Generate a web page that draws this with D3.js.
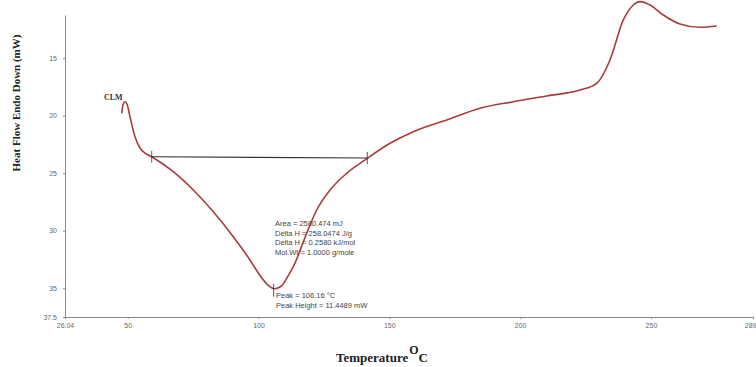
<!DOCTYPE html>
<html lang="en">
<head>
<meta charset="utf-8">
<title>DSC curve - CLM</title>
<script src="https://d3js.org/d3.v7.js"></script>
<style>
  body { margin: 0; background: #fff; }
  .tick text { font-family: Arial, "Liberation Sans", sans-serif; font-size: 7px; fill: #666; }
  .tick line, .domain { stroke: #8a8a8a; }
</style>
</head>
<body>
<div id="chart"></div>
<script>
// curve: temperature (C) and heat flow (mW)
const temps = [47.71, 48.21, 48.97, 49.74, 50.88, 52.79, 54.70, 56.62, 59.18, 67.43,
  75.08, 82.72, 90.37, 96.75, 99.42, 103.63, 106.16, 107.83, 109.47, 111.27, 113.3, 118.42, 122.24,
  127.32, 133.71, 141.58, 150.26, 159.16, 171.93, 184.65, 197.38, 210.15, 222.87,
  229.26, 234.34, 239.43, 243.25, 245.8, 249.63, 254.71, 261.07, 268.72, 275.1];
const heatFlow = [19.79, 19.07, 18.79, 18.99, 20.09, 21.83, 22.81, 23.25, 23.57, 24.87,
  26.46, 28.35, 30.52, 32.55, 33.50, 34.72, 35.05, 34.94, 34.63, 33.94, 33.13, 30.22, 28.2,
  26.46, 25.01, 23.71, 22.40, 21.39, 20.38, 19.36, 18.79, 18.29, 17.77,
  17.19, 15.16, 11.68, 10.38, 10.09, 10.38, 11.25, 12.03, 12.32, 12.21];

// integration baseline and peak
const baseT = [59.18, 141.58];
const baseH = [23.57, 23.68];
const peakT = 106.16, peakH = 35.05;

const xTicks = [26.04, 50, 100, 150, 200, 250, 289];
const yTicks = [15, 20, 25, 30, 35, 37.5];

const areaText = ["Area = 2580.474 mJ", "Delta H = 258.0474 J/g", "Delta H = 0.2580 kJ/mol", "Mol.Wt = 1.0000 g/mole"];
const peakText = ["Peak = 106.16 \u00B0C", "Peak Height = 11.4489 mW"];

const W = 756, H = 367;
const svg = d3.select("#chart").append("svg")
  .attr("width", W).attr("height", H);

const x = d3.scaleLinear().domain([26.04, 289]).range([65, 753]);
const y = d3.scaleLinear().domain([11.25, 37.5]).range([15, 317]);

// axes
svg.append("g")
  .attr("transform", "translate(0,317)")
  .call(d3.axisBottom(x).tickValues(xTicks).tickSize(2).tickSizeOuter(0)
    .tickFormat(d => d === 26.04 ? "26.04" : d3.format("d")(d)))
  .call(g => g.selectAll(".tick text").attr("dy", "0.9em"))
  .call(g => g.selectAll(".tick text").filter(d => d === 289).attr("text-anchor", "end").attr("x", 3));

svg.append("g")
  .attr("transform", "translate(65,0)")
  .call(d3.axisLeft(y).tickValues(yTicks).tickSize(2).tickSizeOuter(0)
    .tickFormat(d => d === 37.5 ? "37.5" : d))
  .call(g => g.selectAll(".tick text").attr("x", -8));

// axis titles
svg.append("text")
  .attr("transform", "translate(20,103) rotate(-90)")
  .attr("text-anchor", "middle")
  .style("font-family", "'Liberation Serif', 'Times New Roman', serif")
  .style("font-weight", "bold").style("font-size", "11px").style("fill", "#222")
  .text("Heat Flow Endo Down (mW)");

const xt = svg.append("text")
  .attr("x", 336).attr("y", 362)
  .style("font-family", "'Liberation Serif', 'Times New Roman', serif")
  .style("font-weight", "bold").style("font-size", "13px").style("fill", "#222");
xt.append("tspan").text("Temperature");
xt.append("tspan").attr("dy", -8).attr("dx", 1).style("font-size", "12px").text("O");
xt.append("tspan").attr("dy", 8).attr("dx", 0).text("C");

// curve
const pts = temps.map((t, i) => [t, heatFlow[i]]);
svg.append("path")
  .datum(pts)
  .attr("d", d3.line().x(d => x(d[0])).y(d => y(d[1])).curve(d3.curveMonotoneX))
  .attr("fill", "none")
  .attr("stroke", "#a83c3c")
  .attr("stroke-width", 1.6);

// baseline with end ticks
svg.append("line")
  .attr("x1", x(baseT[0])).attr("y1", y(baseH[0]))
  .attr("x2", x(baseT[1])).attr("y2", y(baseH[1]))
  .attr("stroke", "#333").attr("stroke-width", 1.2);
baseT.forEach((t, i) => {
  svg.append("line")
    .attr("x1", x(t)).attr("x2", x(t))
    .attr("y1", y(baseH[i]) - 6).attr("y2", y(baseH[i]) + 6)
    .attr("stroke", "#333").attr("stroke-width", 0.8);
});

// peak tick
svg.append("line")
  .attr("x1", x(peakT) - 1).attr("x2", x(peakT) - 1)
  .attr("y1", y(peakH) - 5).attr("y2", y(peakH) + 8)
  .attr("stroke", "#333").attr("stroke-width", 0.8);

// label
svg.append("text")
  .attr("x", 104).attr("y", 100)
  .style("font-family", "'Liberation Serif', 'Times New Roman', serif")
  .style("font-weight", "bold").style("font-size", "8px").style("fill", "#333")
  .text("CLM");

// annotations
const ann = (lines, x0, y0) => lines.forEach((s, i) => {
  svg.append("text")
    .attr("x", x0).attr("y", y0 + i * 9.5)
    .style("font-family", "Arial, 'Liberation Sans', sans-serif")
    .style("font-size", "7.5px").style("fill", "#444")
    .text(s);
});
ann(areaText, 275, 226);
ann(peakText, 276, 298);
</script>
</body>
</html>
